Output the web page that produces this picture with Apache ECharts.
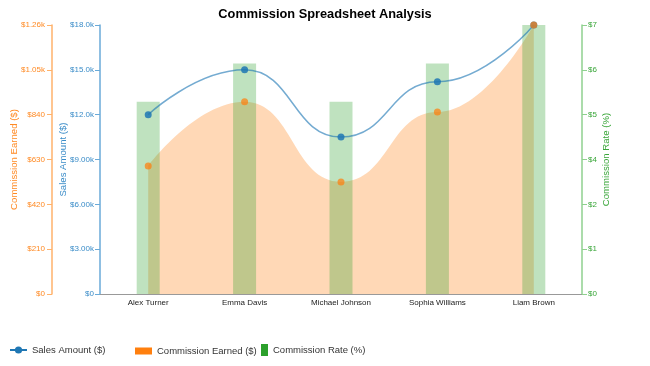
<!DOCTYPE html>
<html>
<head>
<meta charset="utf-8">
<script src="https://cdn.jsdelivr.net/npm/echarts@6/dist/echarts.min.js"></script>
<style>html,body{margin:0;padding:0;background:#fff}#c{width:650px;height:366px}</style>
</head>
<body>
<div id="c"></div>
<script>
const categories = ['Alex Turner', 'Emma Davis', 'Michael Johnson', 'Sophia Williams', 'Liam Brown'];
const salesAmount = [12000, 15000, 10500, 14200, 18000];
const commissionEarned = [600, 900, 525, 852, 1260];
const commissionRate = [5, 6, 5, 6, 7];
const salesTicks = ['$0', '$3.00k', '$6.00k', '$9.00k', '$12.0k', '$15.0k', '$18.0k'];
const commissionTicks = ['$0', '$210', '$420', '$630', '$840', '$1.05k', '$1.26k'];
const rateTicks = ['$0', '$1', '$2', '$4', '$5', '$6', '$7'];

const FONT = '"Liberation Sans", Arial, sans-serif';
const chart = echarts.init(document.getElementById('c'), null, {renderer: 'canvas'});

function tickFmt(arr, step) {
  return function (v) { const i = Math.round(v / step); return arr[i] !== undefined ? arr[i] : ''; };
}
const legendText = {fontSize: 9.5, color: '#333', fontFamily: FONT};

chart.setOption({
  animation: false,
  textStyle: {fontFamily: FONT},
  title: {
    text: 'Commission Spreadsheet Analysis',
    left: 'center', top: 3,
    textStyle: {fontSize: 12.8, fontWeight: 'bold', color: '#000', fontFamily: FONT}
  },
  legend: [
    {data: [{name: 'Sales Amount ($)', itemStyle: {color: '#1f77b4', opacity: 1}, lineStyle: {color: '#1f77b4', opacity: 1}}],
     left: 9, top: 345, padding: 0, itemWidth: 17, itemHeight: 9, textStyle: legendText},
    {data: [{name: 'Commission Earned ($)', icon: 'rect', itemStyle: {color: '#ff7f0e', opacity: 1}}],
     left: 135, top: 346, padding: 0, itemWidth: 17, itemHeight: 7, textStyle: legendText},
    {data: [{name: 'Commission Rate (%)', icon: 'rect', itemStyle: {color: '#2ca02c', opacity: 1}}],
     left: 261, top: 344, padding: 0, itemWidth: 7, itemHeight: 12, textStyle: legendText}
  ],
  grid: {left: 100, right: 68, top: 25, bottom: 72, containLabel: false, outerBoundsMode: 'none'},
  xAxis: {
    type: 'category', data: categories, boundaryGap: true,
    axisLine: {lineStyle: {color: '#999'}},
    axisTick: {alignWithLabel: true, length: 4, lineStyle: {color: '#999'}},
    axisLabel: {fontSize: 8, color: '#222', margin: 5, interval: 0}
  },
  yAxis: [
    {
      type: 'value', position: 'left', offset: 0, min: 0, max: 18000, interval: 3000,
      name: 'Sales Amount ($)', nameLocation: 'middle', nameGap: 32, nameRotate: 90, nameMoveOverlap: false,
      nameTextStyle: {color: '#3a8cc8', fontSize: 9.6},
      axisLine: {show: true, lineStyle: {color: '#6aaad8', width: 1.5}},
      axisTick: {show: true, length: 5, lineStyle: {color: '#6aaad8'}},
      axisLabel: {color: '#3a8cc8', fontSize: 8, margin: 6, formatter: tickFmt(salesTicks, 3000)},
      splitLine: {show: false}
    },
    {
      type: 'value', position: 'left', offset: 48, min: 0, max: 1260, interval: 210,
      name: 'Commission Earned ($)', nameLocation: 'middle', nameGap: 33, nameRotate: 90, nameMoveOverlap: false,
      nameTextStyle: {color: '#ff8a24', fontSize: 9.6},
      axisLine: {show: true, lineStyle: {color: '#ffb26b', width: 1.5}},
      axisTick: {show: true, length: 5, lineStyle: {color: '#ffb26b'}},
      axisLabel: {color: '#ff8a24', fontSize: 8, margin: 7, formatter: tickFmt(commissionTicks, 210)},
      splitLine: {show: false}
    },
    {
      type: 'value', position: 'right', offset: 0, min: 0, max: 7, interval: 7 / 6,
      name: 'Commission Rate (%)', nameLocation: 'middle', nameGap: 19, nameRotate: 90, nameMoveOverlap: false,
      nameTextStyle: {color: '#3aa63a', fontSize: 9.6},
      axisLine: {show: true, lineStyle: {color: '#8fd18f', width: 1.5}},
      axisTick: {show: true, length: 5, lineStyle: {color: '#8fd18f'}},
      axisLabel: {color: '#3aa63a', fontSize: 8, margin: 6, formatter: tickFmt(rateTicks, 7 / 6)},
      splitLine: {show: false}
    }
  ],
  series: [
    {
      name: 'Commission Earned ($)', type: 'line', yAxisIndex: 1, data: commissionEarned,
      smooth: 0.5, smoothMonotone: 'x',
      showSymbol: false, symbol: 'none',
      lineStyle: {width: 0, opacity: 0},
      areaStyle: {color: 'rgba(255,127,14,0.3)', opacity: 1},
      itemStyle: {color: '#ff7f0e'}, z: 1
    },
    {
      name: 'Commission Rate (%)', type: 'bar', yAxisIndex: 2, data: commissionRate,
      barWidth: 23,
      itemStyle: {color: 'rgba(44,160,44,0.3)'}, z: 2
    },
    {
      name: 'Sales Amount ($)', type: 'line', yAxisIndex: 0, data: salesAmount,
      smooth: 0.5, smoothMonotone: 'x',
      symbol: 'circle', symbolSize: 7,
      lineStyle: {width: 1.5, color: '#1f77b4', opacity: 0.62},
      itemStyle: {color: '#1f77b4', opacity: 0.85}, z: 3
    },
    {
      name: 'Commission Earned ($)', type: 'line', yAxisIndex: 1, data: commissionEarned,
      symbol: 'circle', symbolSize: 7,
      lineStyle: {width: 0, opacity: 0},
      itemStyle: {color: '#ff7f0e', opacity: 0.72}, z: 4
    }
  ]
});
</script>
</body>
</html>
